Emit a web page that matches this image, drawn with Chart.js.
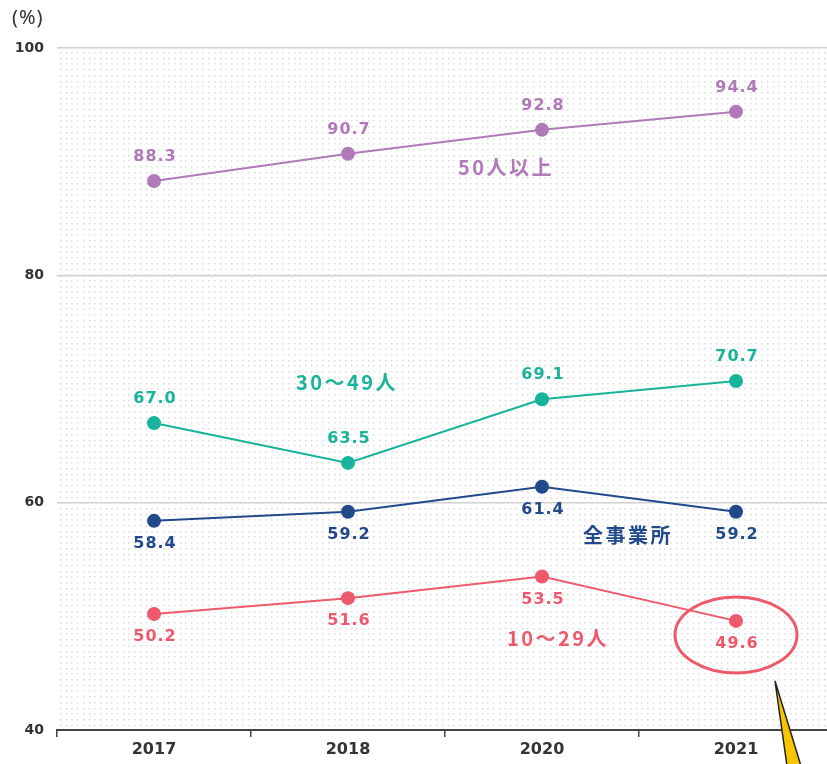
<!DOCTYPE html>
<html lang="ja">
<head>
<meta charset="utf-8">
<script src="https://cdn.jsdelivr.net/npm/chart.js@4/dist/chart.umd.min.js"></script>
<style>
    html, body { margin: 0; padding: 0; background: #fff; overflow: hidden; }
    #wrap { position: relative; width: 840px; height: 764px; }
    #unit { position: absolute; left: 12px; top: 3px; font: 20px "Noto Sans", sans-serif; letter-spacing: 1px; color: #333; }
</style>
</head>
<body>
<div id="wrap">
    <div id="unit">(%)</div>
    <canvas id="rateChart" width="840" height="764"></canvas>
</div>
<script>
const years = ['2017', '2018', '2020', '2021'];
const over50 = [88.3, 90.7, 92.8, 94.4];
const from30to49 = [67.0, 63.5, 69.1, 70.7];
const allSites = [58.4, 59.2, 61.4, 59.2];
const from10to29 = [50.2, 51.6, 53.5, 49.6];
const yTicks = [40, 60, 80, 100];

const FONT = '"DejaVu Sans", "Noto Sans CJK JP", sans-serif';
const JP_FONT = '"Noto Sans CJK JP", sans-serif';

const seriesDefs = [
    { label: '50人以上', data: over50, color: '#b07ab9', labelPos: 'above', name: { x: 505, y: 167 } },
    { label: '30〜49人', data: from30to49, color: '#17b39a', labelPos: 'above', name: { x: 346, y: 382 } },
    { label: '全事業所', data: allSites, color: '#22498c', labelPos: 'below', name: { x: 627, y: 535 } },
    { label: '10〜29人', data: from10to29, color: '#ee5a6c', labelPos: 'below', name: { x: 557, y: 638 } }
];

// dotted fill behind the plot area
const dotBackground = {
    id: 'dotBackground',
    beforeDatasetsDraw(chart) {
        const { ctx, chartArea: a } = chart;
        ctx.save();
        ctx.fillStyle = '#dadada';
        for (let y = a.top + 4; y < a.bottom - 2; y += 5.7) {
            for (let x = a.left + 3; x < a.right; x += 5.7) {
                ctx.fillRect(Math.round(x), Math.round(y), 1.5, 1.5);
            }
        }
        ctx.restore();
    }
};

// value labels, series names, highlight ring and pointer
const annotations = {
    id: 'annotations',
    afterDatasetsDraw(chart) {
        const { ctx } = chart;
        ctx.save();
        ctx.textAlign = 'center';
        ctx.textBaseline = 'middle';

        seriesDefs.forEach((s, i) => {
            const meta = chart.getDatasetMeta(i);
            ctx.fillStyle = s.color;
            ctx.font = 'bold 16px ' + FONT;
            ctx.letterSpacing = '1px';
            meta.data.forEach((pt, j) => {
                const dy = s.labelPos === 'above' ? -24 : 23;
                ctx.fillText(s.data[j].toFixed(1), pt.x + 1, pt.y + dy);
            });
            ctx.font = 'bold 20px ' + JP_FONT;
            ctx.letterSpacing = '2.5px';
            ctx.fillText(s.label, s.name.x + 1, s.name.y);
        });
        ctx.letterSpacing = '0px';

        // ring around the latest 10〜29人 value
        const last = chart.getDatasetMeta(3).data[3];
        ctx.strokeStyle = '#ee5a6c';
        ctx.lineWidth = 3;
        ctx.beginPath();
        ctx.ellipse(last.x, last.y + 14, 61, 38, 0, 0, Math.PI * 2);
        ctx.stroke();

        // yellow pointer leaving the chart
        ctx.fillStyle = '#f7c600';
        ctx.strokeStyle = '#222';
        ctx.lineWidth = 1.5;
        ctx.beginPath();
        ctx.moveTo(775, 681);
        ctx.lineTo(787, 766);
        ctx.lineTo(801, 766);
        ctx.closePath();
        ctx.fill();
        ctx.stroke();
        ctx.restore();
    }
};

new Chart(document.getElementById('rateChart'), {
    type: 'line',
    data: {
        labels: years,
        datasets: seriesDefs.map(s => ({
            label: s.label,
            data: s.data,
            borderColor: s.color,
            backgroundColor: s.color,
            borderWidth: 2,
            pointRadius: 7,
            pointHoverRadius: 7,
            pointBorderWidth: 0,
            tension: 0
        }))
    },
    options: {
        responsive: false,
        animation: false,
        layout: { padding: { top: 48, left: 0, right: 7, bottom: 0 } },
        plugins: {
            legend: { display: false },
            tooltip: { enabled: false }
        },
        scales: {
            x: {
                offset: true,
                afterFit(scale) { scale.height = 34; },
                border: { display: true, color: '#444', width: 2 },
                grid: { drawOnChartArea: false, drawTicks: true, tickLength: 7, color: '#444', lineWidth: 1.5, offset: true },
                ticks: { color: '#333', font: { family: FONT, size: 16, weight: 'bold' }, padding: 3 }
            },
            y: {
                min: 40,
                max: 100,
                afterFit(scale) { scale.width = 57; },
                afterBuildTicks(scale) { scale.ticks = yTicks.map(v => ({ value: v })); },
                border: { display: false },
                grid: {
                    drawTicks: false,
                    color: ctx => ctx.tick && ctx.tick.value === 40 ? 'rgba(0,0,0,0)' : '#cfcfcf',
                    lineWidth: 1.5
                },
                ticks: { color: '#333', font: { family: FONT, size: 14, weight: 'bold' }, padding: 13 }
            }
        }
    },
    plugins: [dotBackground, annotations]
});
</script>
</body>
</html>
